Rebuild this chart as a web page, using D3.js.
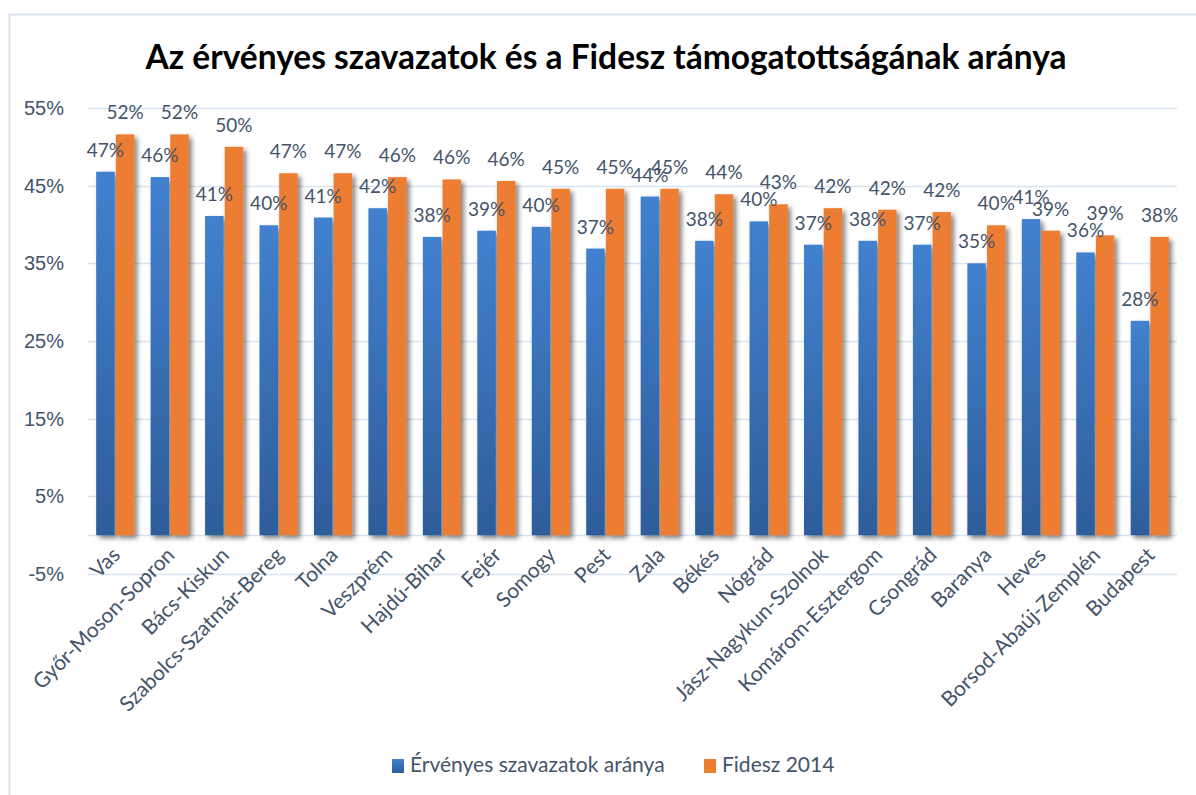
<!DOCTYPE html>
<html>
<head>
<meta charset="utf-8">
<script src="https://cdn.jsdelivr.net/npm/d3@7"></script>
<style>
  body { margin: 0; background: #fff; }
  svg { display: block; font-family: Lato, 'Open Sans', sans-serif; }
  .eje text { fill: #44546a; font-size: 20px; }
</style>
</head>
<body>
<div id="graf"></div>
<script>
// I. Datos
megyek = ['Vas', 'Győr-Moson-Sopron', 'Bács-Kiskun', 'Szabolcs-Szatmár-Bereg', 'Tolna', 'Veszprém',
  'Hajdú-Bihar', 'Fejér', 'Somogy', 'Pest', 'Zala', 'Békés', 'Nógrád', 'Jász-Nagykun-Szolnok',
  'Komárom-Esztergom', 'Csongrád', 'Baranya', 'Heves', 'Borsod-Abaúj-Zemplén', 'Budapest']
ervenyes = [46.8, 46.1, 41.1, 39.9, 40.9, 42.1, 38.4, 39.2, 39.7, 36.9, 43.6, 37.9, 40.4, 37.4,
  37.9, 37.4, 35.0, 40.7, 36.4, 27.6]
fidesz = [51.6, 51.6, 50.0, 46.6, 46.6, 46.1, 45.8, 45.6, 44.6, 44.6, 44.6, 43.9, 42.6, 42.1,
  41.9, 41.6, 39.9, 39.2, 38.6, 38.4]
sorozatok = ['Érvényes szavazatok aránya', 'Fidesz 2014']
yTicks = [-5, 5, 15, 25, 35, 45, 55]
titulo = 'Az érvényes szavazatok és a Fidesz támogatottságának aránya'

// II. Configuración
ancho_total = 1196
alto_total = 795
margins = { top: 108, left: 88, right: 19, bottom: 221 }
ancho = ancho_total - margins.left - margins.right
alto = alto_total - margins.top - margins.bottom

svg = d3.select('#graf').append('svg')
  .attr('width', ancho_total)
  .attr('height', alto_total)

defs = svg.append('defs')
grad = defs.append('linearGradient').attr('id', 'azul')
  .attr('x1', 0).attr('y1', 0).attr('x2', 0).attr('y2', 1)
grad.append('stop').attr('offset', '0%').attr('stop-color', '#4281cf')
grad.append('stop').attr('offset', '100%').attr('stop-color', '#2e5d9a')
sombra = defs.append('filter').attr('id', 'sombra')
  .attr('x', '-20%').attr('y', '-5%').attr('width', '160%').attr('height', '115%')
sombra.append('feDropShadow')
  .attr('dx', 3).attr('dy', 3).attr('stdDeviation', 2.5)
  .attr('flood-color', '#000').attr('flood-opacity', 0.5)

// marco
svg.append('path')
  .attr('d', `M9.5,${alto_total} V14.5 H${ancho_total}`)
  .attr('fill', 'none').attr('stroke', '#d6e2f0').attr('stroke-width', 2)

svg.append('text')
  .attr('x', 606).attr('y', 69)
  .attr('text-anchor', 'middle')
  .style('font-size', '33.5px').style('font-weight', 'bold').style('fill', '#000')
  .text(titulo)

g = svg.append('g').attr('transform', `translate(${margins.left}, ${margins.top})`)

y = d3.scaleLinear().domain([-5, 55]).range([alto, 0])
x0 = d3.scaleBand().domain(megyek).range([0, ancho]).paddingInner(0.3).paddingOuter(0.15)
x1 = d3.scaleBand().domain(sorozatok).range([0, x0.bandwidth()]).paddingInner(0.06)
color = d3.scaleOrdinal().domain(sorozatok).range(['url(#azul)', '#ed7d31'])

// rejilla
g.selectAll('.grid').data(yTicks.concat([0])).enter()
  .append('line')
  .attr('x1', 0).attr('x2', ancho)
  .attr('y1', d => Math.round(y(d)) + 0.5).attr('y2', d => Math.round(y(d)) + 0.5)
  .attr('stroke', '#d9e4f2').attr('stroke-width', 1.5)

yAxisGroup = g.append('g').attr('class', 'eje')
  .call(d3.axisLeft(y).tickValues(yTicks).tickSize(0).tickPadding(24).tickFormat(d => d + '%'))
yAxisGroup.select('.domain').remove()

// barras
datos = megyek.map((m, i) => ({ megye: m, vals: [
  { s: sorozatok[0], v: ervenyes[i] },
  { s: sorozatok[1], v: fidesz[i] }] }))

grupos = g.selectAll('.grupo').data(datos).enter()
  .append('g').attr('transform', d => `translate(${x0(d.megye)}, 0)`)

grupos.selectAll('rect').data(d => d.vals).enter()
  .append('rect')
  .attr('x', d => x1(d.s))
  .attr('width', x1.bandwidth())
  .attr('y', d => y(d.v))
  .attr('height', d => y(0) - y(d.v))
  .attr('fill', d => color(d.s))
  .attr('filter', 'url(#sombra)')

grupos.selectAll('.etiqueta').data(d => d.vals).enter()
  .append('text')
  .attr('x', d => x1(d.s) + x1.bandwidth() / 2)
  .attr('y', d => y(d.v) - 15)
  .attr('text-anchor', 'middle')
  .style('font-size', '19px').style('fill', '#44546a')
  .text(d => Math.round(d.v) + '%')

// etiquetas del eje x
g.selectAll('.cat').data(megyek).enter()
  .append('text')
  .attr('transform', d => `translate(${x0(d) + x0.bandwidth() / 2 + 1}, ${y(0) + 16}) rotate(-45)`)
  .attr('dy', '0.35em')
  .attr('text-anchor', 'end')
  .style('font-size', '21px').style('fill', '#44546a')
  .text(d => d)

// leyenda
leyenda = svg.append('g').attr('transform', 'translate(392, 759)')
items = leyenda.selectAll('g').data(sorozatok).enter()
  .append('g').attr('transform', (d, i) => `translate(${i * 312}, 0)`)
items.append('rect').attr('width', 12).attr('height', 14)
  .attr('fill', d => color(d))
items.append('text').attr('x', 18).attr('y', 13)
  .style('font-size', '21px').style('fill', '#44546a')
  .text(d => d)
</script>
</body>
</html>
